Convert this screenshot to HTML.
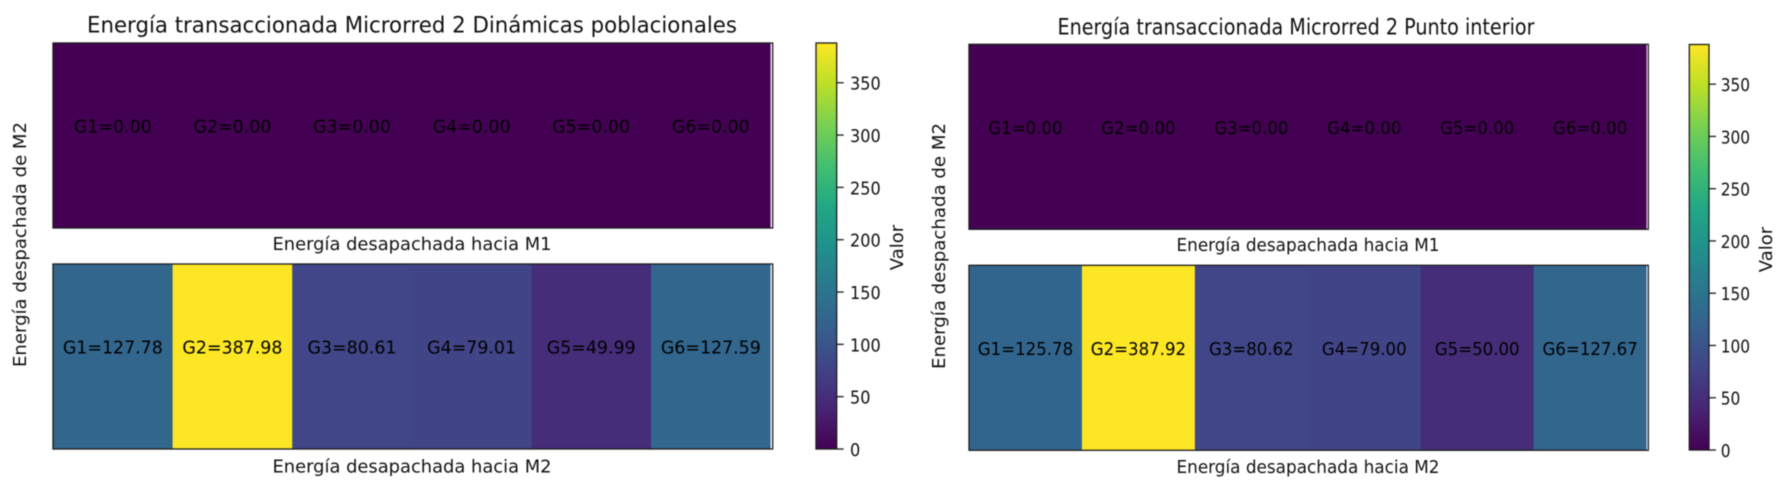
<!DOCTYPE html>
<html lang="es">
<head>
<meta charset="utf-8">
<title>Energía transaccionada Microrred 2</title>
<style>
html,body{margin:0;padding:0;background:#fff;width:1787px;height:489px;overflow:hidden}
svg{display:block;font-family:"DejaVu Sans","Liberation Sans",sans-serif;fill:#111;filter:blur(0.4px)}
</style>
</head>
<body>
<svg id="chart" width="1787" height="489" viewBox="0 0 1787 489" xmlns="http://www.w3.org/2000/svg">
  <defs>
    <linearGradient id="viridis-gradient" x1="0" y1="1" x2="0" y2="0"></linearGradient>
  </defs>
  <rect width="1787" height="489" fill="#fff"/>

  <text x="412" y="32.7" font-size="22" text-anchor="middle" textLength="650" lengthAdjust="spacingAndGlyphs">Energía transaccionada Microrred 2 Dinámicas poblacionales</text>
  <text x="412" y="250" font-size="18" text-anchor="middle" textLength="279" lengthAdjust="spacingAndGlyphs">Energía desapachada hacia M1</text>
  <text x="412" y="472.7" font-size="18" text-anchor="middle" textLength="279" lengthAdjust="spacingAndGlyphs">Energía desapachada hacia M2</text>
  <text transform="translate(26 244.5) rotate(-90)" font-size="18" text-anchor="middle" textLength="245" lengthAdjust="spacingAndGlyphs">Energía despachada de M2</text>
  <text transform="translate(903 247.5) rotate(-90)" font-size="18" text-anchor="middle">Valor</text>

  <text x="1296" y="34.5" font-size="22" text-anchor="middle" textLength="477" lengthAdjust="spacingAndGlyphs">Energía transaccionada Microrred 2 Punto interior</text>
  <text x="1308" y="251" font-size="18" text-anchor="middle" textLength="263" lengthAdjust="spacingAndGlyphs">Energía desapachada hacia M1</text>
  <text x="1308" y="473" font-size="18" text-anchor="middle" textLength="263" lengthAdjust="spacingAndGlyphs">Energía desapachada hacia M2</text>
  <text transform="translate(945 246) rotate(-90)" font-size="18" text-anchor="middle" textLength="246" lengthAdjust="spacingAndGlyphs">Energía despachada de M2</text>
  <text transform="translate(1772 249.5) rotate(-90)" font-size="18" text-anchor="middle">Valor</text>
</svg>
<script>
const generators = ['G1', 'G2', 'G3', 'G4', 'G5', 'G6'];
const dynamicsToM1 = [0, 0, 0, 0, 0, 0];
const dynamicsToM2 = [127.78, 387.98, 80.61, 79.01, 49.99, 127.59];
const interiorToM1 = [0, 0, 0, 0, 0, 0];
const interiorToM2 = [125.78, 387.92, 80.62, 79.00, 50.00, 127.67];
const colorbarTicks = [0, 50, 100, 150, 200, 250, 300, 350];

const viridisAnchors = ['#440154', '#482475', '#414487', '#355f8d', '#2a788e', '#21918c', '#22a884', '#44bf70', '#7ad151', '#bddf26', '#fde725'];
const svgNS = 'http://www.w3.org/2000/svg';
const svg = document.getElementById('chart');

function hexToRgb(hex) {
  return [1, 3, 5].map(function (i) { return parseInt(hex.substr(i, 2), 16); });
}
function viridis(t) {
  const c = Math.max(0, Math.min(1, t)) * (viridisAnchors.length - 1);
  const i = Math.min(Math.floor(c), viridisAnchors.length - 2);
  const a = hexToRgb(viridisAnchors[i]);
  const b = hexToRgb(viridisAnchors[i + 1]);
  const f = c - i;
  return 'rgb(' + a.map(function (v, k) { return Math.round(v + (b[k] - v) * f); }).join(',') + ')';
}
function make(tag, attrs, parent) {
  const el = document.createElementNS(svgNS, tag);
  Object.keys(attrs).forEach(function (k) { el.setAttribute(k, attrs[k]); });
  (parent || svg).appendChild(el);
  return el;
}

const gradient = document.getElementById('viridis-gradient');
viridisAnchors.forEach(function (color, i) {
  make('stop', { offset: i / (viridisAnchors.length - 1), 'stop-color': color }, gradient);
});

function drawHeatRow(prefix, rowName, values, box, maxValue) {
  const cellWidth = box.width / generators.length;
  const xScale = function (i) { return box.x + i * cellWidth; };
  values.forEach(function (value, i) {
    const cell = make('rect', {
      x: xScale(i), y: box.y, width: cellWidth + (i < values.length - 1 ? 0.4 : 0), height: box.height,
      fill: viridis(value / maxValue)
    });
    
    
  });
  values.forEach(function (value, i) {
    const labelX = xScale(i) + cellWidth / 2;
    const labelY = box.y + box.height / 2 - 9.4 + 6.6;
    const label = make('text', {
      transform: 'translate(' + labelX + ' ' + labelY + ') scale(' + box.textScale + ' 1)',
      'font-size': 18, 'text-anchor': 'middle', fill: '#000'
    });
    label.textContent = generators[i] + '=' + value.toFixed(2);
    
    
  });
  const frame = make('rect', {
    x: box.x, y: box.y, width: box.frameWidth, height: box.height,
    fill: 'none', stroke: '#1c1c1c', 'stroke-width': 1.3
  });
  
  
}

function drawColorbar(prefix, box, maxValue) {
  const yScale = function (v) { return box.bottom - (v / maxValue) * (box.bottom - box.top); };
  const bar = make('rect', {
    x: box.x, y: yScale(maxValue), width: box.width, height: yScale(0) - yScale(maxValue),
    fill: 'url(#viridis-gradient)', stroke: '#1c1c1c', 'stroke-width': 1.3
  });
  
  
  colorbarTicks.forEach(function (tick) {
    const mark = make('line', {
      x1: box.x + box.width, x2: box.x + box.width + 7, y1: yScale(tick), y2: yScale(tick),
      stroke: '#1c1c1c', 'stroke-width': 1.3
    });
    
    
    const label = make('text', {
      transform: 'translate(' + box.labelX + ' ' + (yScale(tick) + 7) + ') scale(' + box.textScale + ' 1)',
      'font-size': 17.5
    });
    label.textContent = tick;
    
    
  });
}

const leftMax = Math.max.apply(null, dynamicsToM1.concat(dynamicsToM2));
const rightMax = Math.max.apply(null, interiorToM1.concat(interiorToM2));

drawHeatRow('left', 'top', dynamicsToM1, { x: 53, y: 43, width: 717.6, frameWidth: 719.7, height: 185, textScale: 0.967 }, leftMax);
drawHeatRow('left', 'bottom', dynamicsToM2, { x: 53, y: 264, width: 717.6, frameWidth: 719.7, height: 185, textScale: 0.967 }, leftMax);
drawColorbar('left', { x: 816, width: 20.7, top: 43, bottom: 449, labelX: 850, textScale: 0.92 }, leftMax);

drawHeatRow('right', 'top', interiorToM1, { x: 969, y: 44.3, width: 677.6, frameWidth: 679.3, height: 185, textScale: 0.922 }, rightMax);
drawHeatRow('right', 'bottom', interiorToM2, { x: 969, y: 265.3, width: 677.6, frameWidth: 679.3, height: 185, textScale: 0.922 }, rightMax);
drawColorbar('right', { x: 1689.3, width: 19.7, top: 44.5, bottom: 450, labelX: 1720.7, textScale: 0.88 }, rightMax);
</script>
</body>
</html>
